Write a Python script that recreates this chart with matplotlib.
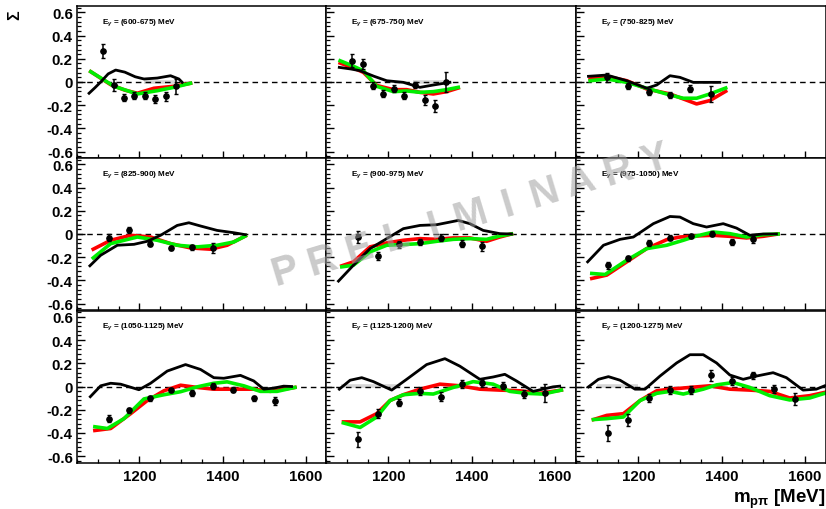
import matplotlib
matplotlib.use("Agg")
import matplotlib.pyplot as plt
from matplotlib.ticker import MultipleLocator, FixedLocator

plt.rcParams['font.family'] = ['Liberation Sans', 'DejaVu Sans']
plt.rcParams['font.weight'] = 'bold'
plt.rcParams['mathtext.fontset'] = 'custom'
plt.rcParams['mathtext.rm'] = 'Liberation Sans:bold'
plt.rcParams['mathtext.it'] = 'Liberation Sans:italic:bold'
plt.rcParams['mathtext.bf'] = 'Liberation Sans:bold'

# Photon energy bins, one panel each
energy_bins = ["600-675", "675-750", "750-825",
               "825-900", "900-975", "975-1050",
               "1050-1125", "1125-1200", "1200-1275"]

# Measured beam asymmetry Sigma vs m(p pi) [MeV]
data_x = [
    [1113, 1138, 1163, 1188, 1213, 1238, 1263, 1288],
    [1113, 1138, 1163, 1188, 1213, 1238, 1263, 1288, 1313, 1338],
    [1125, 1175, 1225, 1275, 1325, 1375],
    [1126, 1176, 1226, 1276, 1326, 1376],
    [1126, 1176, 1226, 1276, 1326, 1376, 1426],
    [1126, 1176, 1226, 1276, 1326, 1376, 1426, 1476],
    [1126, 1176, 1226, 1276, 1326, 1376, 1426, 1476, 1526],
    [1126, 1176, 1226, 1276, 1326, 1376, 1426, 1476, 1526, 1576],
    [1126, 1176, 1226, 1276, 1326, 1375, 1426, 1476, 1526, 1576],
]
data_y = [
    [0.264, -0.026, -0.135, -0.12, -0.12, -0.145, -0.123, -0.037],
    [0.183, 0.155, -0.032, -0.103, -0.06, -0.117, -0.026, -0.155, -0.209, -0.003],
    [0.04, -0.037, -0.089, -0.112, -0.06, -0.103],
    [-0.034, 0.034, -0.083, -0.12, -0.114, -0.12],
    [-0.026, -0.191, -0.089, -0.069, -0.034, -0.083, -0.106],
    [-0.269, -0.211, -0.077, -0.031, -0.017, 0.003, -0.069, -0.046],
    [-0.277, -0.206, -0.102, -0.031, -0.056, 0.003, -0.028, -0.102, -0.127],
    [-0.455, -0.234, -0.141, -0.037, -0.088, 0.02, 0.028, 0.006, -0.065, -0.056],
    [-0.398, -0.291, -0.099, -0.031, -0.031, 0.096, 0.048, 0.096, -0.023, -0.107],
]
data_err = [
    [0.06, 0.05, 0.03, 0.03, 0.03, 0.035, 0.04, 0.065],
    [0.057, 0.04, 0.03, 0.03, 0.03, 0.03, 0.03, 0.04, 0.05, 0.085],
    [0.04, 0.025, 0.025, 0.025, 0.03, 0.07],
    [0.03, 0.025, 0.02, 0.02, 0.02, 0.04],
    [0.05, 0.035, 0.03, 0.03, 0.03, 0.03, 0.04],
    [0.03, 0.025, 0.025, 0.02, 0.02, 0.02, 0.025, 0.03],
    [0.03, 0.025, 0.02, 0.02, 0.025, 0.025, 0.02, 0.02, 0.035],
    [0.065, 0.04, 0.03, 0.035, 0.04, 0.035, 0.03, 0.03, 0.035, 0.08],
    [0.07, 0.05, 0.035, 0.035, 0.035, 0.05, 0.035, 0.03, 0.035, 0.05],
]

# Model curves: black
black_x = [
    [1079, 1093, 1107, 1125, 1143, 1165, 1190, 1211, 1243, 1275, 1295, 1303],
    [1082, 1110, 1132, 1165, 1196, 1236, 1276, 1308, 1348],
    [1080, 1124, 1172, 1220, 1244, 1276, 1300, 1332, 1364, 1396],
    [1081, 1107, 1147, 1187, 1219, 1251, 1291, 1319, 1347, 1387, 1427, 1455],
    [1080, 1116, 1156, 1196, 1236, 1276, 1316, 1340, 1368, 1396, 1428, 1468, 1496],
    [1078, 1116, 1156, 1188, 1236, 1276, 1300, 1332, 1364, 1404, 1436, 1468, 1500, 1532],
    [1082, 1107, 1131, 1155, 1199, 1227, 1267, 1311, 1347, 1379, 1403, 1443, 1475,
     1499, 1523, 1547, 1566],
    [1082, 1108, 1136, 1164, 1208, 1244, 1292, 1336, 1372, 1420, 1452, 1480, 1508,
     1548, 1596, 1612],
    [1080, 1104, 1128, 1156, 1192, 1216, 1252, 1292, 1324, 1356, 1388, 1420, 1452,
     1484, 1524, 1556, 1596, 1628, 1648],
]
black_y = [
    [-0.097, -0.05, 0.0, 0.07, 0.103, 0.085, 0.045, 0.026, 0.034, 0.054, 0.026, -0.003],
    [0.126, 0.112, 0.097, 0.05, 0.011, -0.003, -0.046, -0.026, -0.003],
    [0.049, 0.06, 0.011, -0.054, -0.026, 0.054, 0.04, -0.003, -0.003, -0.003],
    [-0.274, -0.183, -0.097, -0.089, -0.063, -0.011, 0.074, 0.097, 0.069, 0.031, 0.011, -0.006],
    [-0.406, -0.269, -0.126, -0.04, 0.046, 0.074, 0.08, 0.097, 0.117, 0.089, 0.031, 0.003, 0.0],
    [-0.24, -0.097, -0.046, -0.026, 0.089, 0.151, 0.146, 0.089, 0.06, 0.089, 0.051, -0.011,
     0.0, 0.0],
    [-0.088, 0.006, 0.028, 0.02, -0.028, 0.028, 0.133, 0.189, 0.147, 0.076, 0.071, 0.096,
     0.048, -0.023, -0.014, 0.003, 0.0],
    [-0.023, 0.054, 0.076, 0.042, -0.031, 0.062, 0.189, 0.24, 0.175, 0.062, 0.082, 0.105,
     0.048, -0.042, -0.003, 0.003],
    [-0.003, 0.062, 0.085, 0.054, -0.023, -0.023, 0.09, 0.203, 0.274, 0.274, 0.203, 0.099,
     0.062, 0.09, 0.119, 0.076, -0.031, -0.023, 0.006],
]

# Model curves: red
red_x = [
    [1083, 1131, 1165, 1195, 1235, 1283, 1323],
    [1084, 1110, 1140, 1172, 1212, 1244, 1276, 1308, 1340, 1368],
    [1084, 1124, 1172, 1220, 1276, 1308, 1340, 1372, 1410],
    [1089, 1131, 1179, 1227, 1275, 1323, 1371, 1411, 1455],
    [1088, 1116, 1156, 1196, 1236, 1276, 1316, 1356, 1396, 1436, 1468, 1496],
    [1088, 1124, 1172, 1220, 1268, 1300, 1340, 1380, 1420, 1460, 1500, 1536],
    [1093, 1131, 1179, 1219, 1259, 1299, 1339, 1379, 1427, 1475, 1515, 1547, 1574],
    [1092, 1132, 1172, 1204, 1236, 1276, 1324, 1372, 1420, 1468, 1516, 1564, 1616],
    [1092, 1124, 1164, 1204, 1244, 1276, 1324, 1372, 1420, 1468, 1516, 1564, 1612, 1648],
]
red_y = [
    [0.089, -0.023, -0.07, -0.097, -0.054, -0.037, -0.011],
    [0.163, 0.13, 0.083, -0.03, -0.066, -0.066, -0.089, -0.103, -0.083, -0.052],
    [0.026, 0.049, 0.011, -0.06, -0.103, -0.146, -0.189, -0.16, -0.08],
    [-0.131, -0.054, -0.011, -0.026, -0.083, -0.12, -0.131, -0.097, -0.017],
    [-0.274, -0.24, -0.111, -0.077, -0.054, -0.04, -0.046, -0.034, -0.034, -0.063, -0.026, 0.0],
    [-0.383, -0.354, -0.24, -0.126, -0.049, -0.026, -0.017, -0.011, -0.02, -0.034, -0.02, 0.0],
    [-0.379, -0.362, -0.234, -0.121, -0.037, 0.011, -0.008, -0.023, -0.023, -0.023, -0.042,
     -0.023, -0.008],
    [-0.305, -0.305, -0.234, -0.121, -0.071, -0.023, 0.02, 0.006, -0.023, -0.031, -0.037,
     -0.059, -0.031],
    [-0.285, -0.249, -0.234, -0.121, -0.037, -0.023, -0.008, 0.006, -0.023, -0.031, -0.042,
     -0.099, -0.079, -0.051],
]

# Model curves: green
green_x = [
    [1083, 1139, 1195, 1243, 1283, 1323],
    [1084, 1110, 1140, 1172, 1212, 1244, 1276, 1308, 1340, 1368],
    [1084, 1124, 1172, 1220, 1276, 1308, 1340, 1372, 1410],
    [1089, 1131, 1195, 1243, 1291, 1339, 1387, 1427, 1455],
    [1088, 1116, 1156, 1196, 1236, 1276, 1316, 1356, 1396, 1436, 1468, 1496],
    [1088, 1120, 1172, 1220, 1268, 1308, 1340, 1380, 1420, 1460, 1500, 1536],
    [1093, 1123, 1163, 1211, 1259, 1299, 1339, 1379, 1411, 1451, 1491, 1531, 1574],
    [1092, 1132, 1172, 1204, 1236, 1276, 1308, 1356, 1404, 1452, 1492, 1532, 1572, 1616],
    [1092, 1124, 1164, 1204, 1244, 1276, 1308, 1356, 1388, 1428, 1468, 1516, 1564, 1612, 1648],
]
green_y = [
    [0.089, -0.037, -0.103, -0.075, -0.046, -0.011],
    [0.183, 0.145, 0.097, -0.037, -0.083, -0.077, -0.089, -0.083, -0.066, -0.046],
    [0.011, 0.026, -0.003, -0.054, -0.112, -0.14, -0.14, -0.103, -0.052],
    [-0.206, -0.083, -0.026, -0.054, -0.097, -0.111, -0.097, -0.069, -0.017],
    [-0.283, -0.269, -0.154, -0.097, -0.091, -0.083, -0.063, -0.046, -0.04, -0.046, -0.017, 0.0],
    [-0.34, -0.349, -0.226, -0.126, -0.097, -0.054, -0.017, 0.017, 0.003, -0.026, -0.006, 0.0],
    [-0.347, -0.362, -0.277, -0.107, -0.071, -0.045, -0.003, 0.028, 0.04, 0.006, -0.042,
     -0.042, -0.008],
    [-0.314, -0.353, -0.263, -0.121, -0.071, -0.059, -0.065, -0.008, 0.042, 0.02, -0.042,
     -0.059, -0.065, -0.031],
    [-0.285, -0.277, -0.263, -0.121, -0.059, -0.042, -0.065, -0.023, 0.014, 0.034, -0.008,
     -0.079, -0.116, -0.099, -0.059],
]

# Faint grey model close to zero
grey_x = [[1210, 1290], [1260, 1345], [], [], [], [], [], [1085, 1230], [1100, 1200]]
grey_y = [[0.0, 0.0], [0.004, 0.004], [], [], [], [], [], [0.006, 0.006], [0.006, 0.006]]

x_range = (1050, 1650)
y_range = (-0.655, 0.655)
y_ticks = [-0.6, -0.4, -0.2, 0.0, 0.2, 0.4, 0.6]
y_ticklabels = ["-0.6", "-0.4", "-0.2", "0", "0.2", "0.4", "0.6"]
x_ticks = [1200, 1400, 1600]

W, H = 826, 510
fig = plt.figure(figsize=(W / 100, H / 100), dpi=100)

col_left = [77, 326, 576]
row_top = [7, 159, 311.5]
pw, ph = 249.5, 152

for i in range(9):
    r, c = divmod(i, 3)
    ax = fig.add_axes([col_left[c] / W, 1 - (row_top[r] + ph) / H, pw / W, ph / H])
    ax.set_xlim(*x_range)
    ax.set_ylim(*y_range)
    ax.axhline(0, color='black', lw=1.0, ls=(0, (4, 3)), zorder=1)

    if grey_x[i]:
        ax.plot(grey_x[i], grey_y[i], color='#d6d6d6', lw=2.6, zorder=0.9,
                solid_capstyle='butt')
    ax.plot(red_x[i], red_y[i], color='#ff0000', lw=2.6, zorder=2,
            solid_joinstyle='round')
    ax.plot(green_x[i], green_y[i], color='#00ee00', lw=2.6, zorder=2.1,
            solid_joinstyle='round')
    ax.plot(black_x[i], black_y[i], color='black', lw=2.0, zorder=2.2,
            solid_joinstyle='round')
    ax.errorbar(data_x[i], data_y[i], yerr=data_err[i], fmt='o', color='black',
                ms=3.8, elinewidth=1.1, capsize=1.2, capthick=1.0, zorder=3)

    ax.text(0.1, 0.935, r"E$_{\gamma}$ = (" + energy_bins[i] + ") MeV",
            transform=ax.transAxes, fontsize=5.9, fontweight='bold',
            ha='left', va='top')

    ax.yaxis.set_major_locator(FixedLocator(y_ticks))
    ax.yaxis.set_minor_locator(MultipleLocator(0.04))
    ax.xaxis.set_major_locator(FixedLocator(x_ticks))
    ax.xaxis.set_minor_locator(MultipleLocator(50))
    ax.tick_params(axis='y', which='major', direction='in', length=6, width=1.0,
                   right=False, labelsize=10.8, pad=3)
    ax.tick_params(axis='y', which='minor', direction='in', length=3.2, width=0.9,
                   right=False)
    ax.tick_params(axis='x', which='major', direction='in', length=5, width=1.0,
                   top=False, labelsize=10.8, pad=5)
    ax.tick_params(axis='x', which='minor', direction='in', length=2.8, width=0.9,
                   top=False)
    for sp in ax.spines.values():
        sp.set_linewidth(1.1)

    if c == 0:
        ax.set_yticklabels(y_ticklabels, fontweight='bold')
    else:
        ax.set_yticklabels([])
    if r == 2:
        ax.set_xticklabels([str(v) for v in x_ticks], fontweight='bold')
    else:
        ax.set_xticklabels([])

fig.text(15 / W, 1 - 15 / H, "\u03a3", rotation=90, fontsize=11.5, fontweight='bold',
         ha='center', va='center')
fig.text(826 / W, 1 - 503 / H, r"m$_{\mathbf{p\pi}}$ [MeV]", fontsize=13.5,
         fontweight='bold', ha='right', va='baseline')

# Watermark, letters spaced evenly along a slanted line
mark = "PRELIMINARY"
x0, y0 = 285.0, 272.0
x1, y1 = 655.0, 160.0
for k, ch in enumerate(mark):
    t = k / (len(mark) - 1)
    fig.text((x0 + t * (x1 - x0)) / W, 1 - (y0 + t * (y1 - y0)) / H, ch,
             rotation=16.8, rotation_mode='anchor', fontsize=29, fontweight='bold',
             color='#a0a0a0', alpha=0.55, ha='center', va='center', zorder=10)

fig.savefig("out.png", dpi=100)
